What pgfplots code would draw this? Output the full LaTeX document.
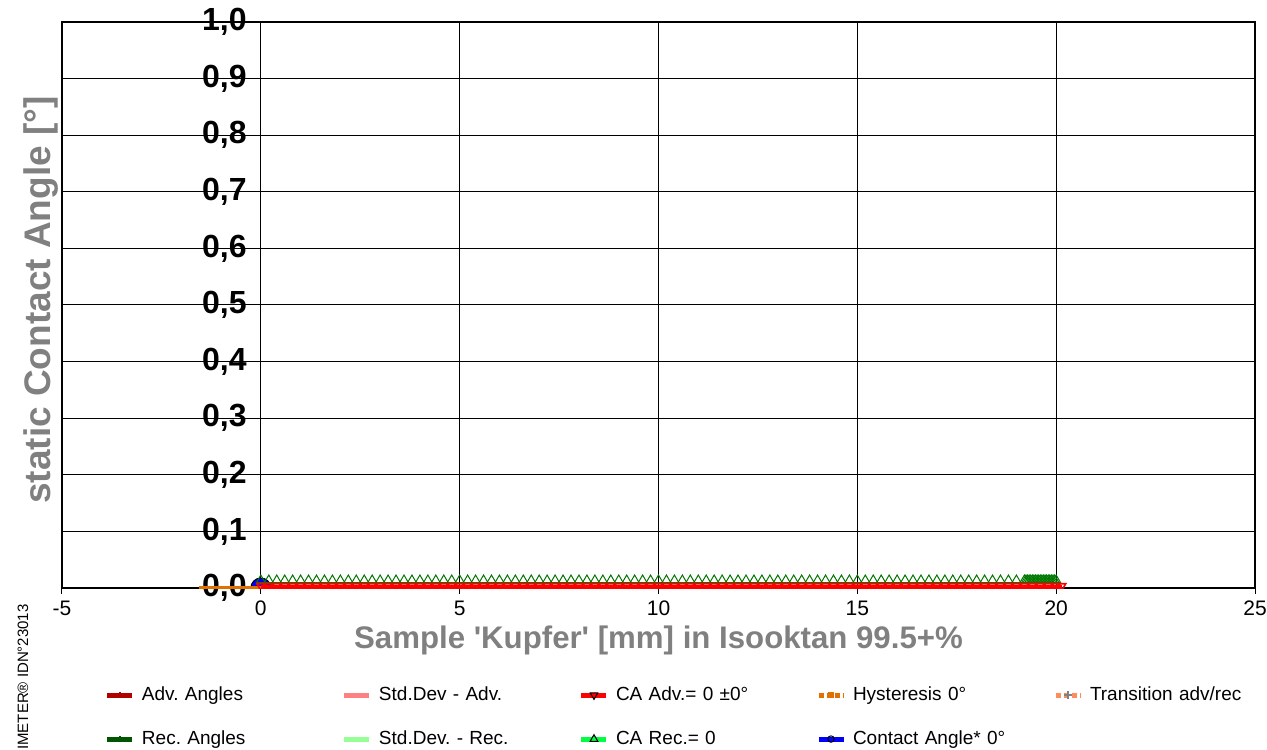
\documentclass[border=0pt]{standalone}
\usepackage{fontspec}
\setmainfont{Liberation Sans}
\usepackage{pgfplots}
\pgfplotsset{compat=1.18}
\frenchspacing

\definecolor{advdark}{RGB}{176,0,0}
\definecolor{advstd}{RGB}{255,128,128}
\definecolor{caadv}{RGB}{255,0,0}
\definecolor{hyst}{RGB}{224,112,0}
\definecolor{trans}{RGB}{255,140,90}
\definecolor{recdark}{RGB}{0,85,0}
\definecolor{recstd}{RGB}{150,255,150}
\definecolor{carec}{RGB}{0,255,64}
\definecolor{recmark}{RGB}{0,120,0}
\definecolor{cablue}{RGB}{0,0,255}
\definecolor{labelgray}{RGB}{128,128,128}

\begin{document}
\begin{tikzpicture}
\useasboundingbox (-31pt,-80.5pt) rectangle (602.5pt,294pt);
\clip (-31pt,-80.5pt) rectangle (602.5pt,294pt);
\begin{axis}[
  name=ax, at={(0,0)}, anchor=south west,
  scale only axis, width=596.5pt, height=283pt,
  xmin=-5, xmax=25, ymin=0, ymax=1,
  xtick={-5,0,5,10,15,20,25},
  ytick={0,0.1,0.2,0.3,0.4,0.5,0.6,0.7,0.8,0.9,1},
  grid=major,
  grid style={black, line width=0.5pt},
  axis line style={black, line width=0.6pt},
  tick align=outside, tick pos=left,
  major tick length=3pt,
  ytick style={draw=none},
  xtick style={black, line width=0.5pt},
  clip marker paths=true,
  /pgf/number format/assume math mode=true,
  xticklabel style={font=\fontsize{10.5}{12}\selectfont},
  yticklabel style={font=\bfseries\fontsize{16}{18}\selectfont,
    anchor=east, inner sep=0pt, xshift=95.5pt,
    /pgf/number format/fixed, /pgf/number format/fixed zerofill,
    /pgf/number format/precision=1, /pgf/number format/use comma},
  xlabel={Sample \textquotesingle Kupfer\textquotesingle\ [mm] in Isooktan 99.5+\%},
  ylabel={static Contact Angle [°]},
  x label style={at={(axis description cs:0.5,-0.106)}, anchor=base,
    font=\bfseries\fontsize{15.6}{18}\selectfont, text=labelgray},
  y label style={at={(axis description cs:-0.01006,0.509)}, anchor=base,
    font=\bfseries\fontsize{18.5}{21}\selectfont, text=labelgray},
  legend style={
    at={(axis description cs:0.03604,-0.228)}, anchor=west,
    draw=none, fill=none, inner sep=0pt, outer sep=0pt,
    font=\fontsize{9.5}{11}\selectfont,
    row sep=9.5pt,
    /tikz/every odd column/.append style={column sep=1.5pt},
    /tikz/every even column/.append style={text width=98pt, align=left,
      inner xsep=0pt, inner ysep=0pt, text height=7pt, text depth=2pt},
  },
  legend cell align=left,
  legend columns=5,
  legend image code/.code={\draw[mark repeat=2,mark phase=2,#1]
    plot coordinates {(0pt,0pt) (6.25pt,0pt) (12.5pt,0pt)};},
]

% contact angle at the start point
\addplot[forget plot, only marks, mark=*, mark size=5pt,
  mark options={fill=cablue, draw=black, line width=0.5pt}]
  coordinates {(0,0)};

% hysteresis
\addplot[forget plot, hyst, line width=2pt] coordinates {(-1.55,0) (0,0)};

% receding angles
\addplot[forget plot, only marks, recmark, mark=triangle, mark size=2.5pt,
  mark options={yshift=4pt, line width=0.5pt}]
  coordinates {
  (0,0)(0.2,0)(0.4,0)(0.6,0)(0.8,0)
  (1,0)(1.2,0)(1.4,0)(1.6,0)(1.8,0)
  (2,0)(2.2,0)(2.4,0)(2.6,0)(2.8,0)
  (3,0)(3.2,0)(3.4,0)(3.6,0)(3.8,0)
  (4,0)(4.2,0)(4.4,0)(4.6,0)(4.8,0)
  (5,0)(5.2,0)(5.4,0)(5.6,0)(5.8,0)
  (6,0)(6.2,0)(6.4,0)(6.6,0)(6.8,0)
  (7,0)(7.2,0)(7.4,0)(7.6,0)(7.8,0)
  (8,0)(8.2,0)(8.4,0)(8.6,0)(8.8,0)
  (9,0)(9.2,0)(9.4,0)(9.6,0)(9.8,0)
  (10,0)(10.2,0)(10.4,0)(10.6,0)(10.8,0)
  (11,0)(11.2,0)(11.4,0)(11.6,0)(11.8,0)
  (12,0)(12.2,0)(12.4,0)(12.6,0)(12.8,0)
  (13,0)(13.2,0)(13.4,0)(13.6,0)(13.8,0)
  (14,0)(14.2,0)(14.4,0)(14.6,0)(14.8,0)
  (15,0)(15.2,0)(15.4,0)(15.6,0)(15.8,0)
  (16,0)(16.2,0)(16.4,0)(16.6,0)(16.8,0)
  (17,0)(17.2,0)(17.4,0)(17.6,0)(17.8,0)
  (18,0)(18.2,0)(18.4,0)(18.6,0)(18.8,0)
  (19,0)(19.2,0)
  (19.24,0)(19.28,0)(19.32,0)(19.36,0)(19.4,0)
  (19.44,0)(19.48,0)(19.52,0)(19.56,0)(19.6,0)
  (19.64,0)(19.68,0)(19.72,0)(19.76,0)(19.8,0)
  (19.84,0)(19.88,0)(19.92,0)(19.96,0)(20,0)
  };

% advancing angles
\addplot[forget plot, caadv, line width=3pt, mark=triangle, mark size=2.3pt,
  mark options={yshift=1pt, rotate=180, line width=0.8pt}]
  coordinates {
  (0,0)(0.2,0)(0.4,0)(0.6,0)(0.8,0)
  (1,0)(1.2,0)(1.4,0)(1.6,0)(1.8,0)
  (2,0)(2.2,0)(2.4,0)(2.6,0)(2.8,0)
  (3,0)(3.2,0)(3.4,0)(3.6,0)(3.8,0)
  (4,0)(4.2,0)(4.4,0)(4.6,0)(4.8,0)
  (5,0)(5.2,0)(5.4,0)(5.6,0)(5.8,0)
  (6,0)(6.2,0)(6.4,0)(6.6,0)(6.8,0)
  (7,0)(7.2,0)(7.4,0)(7.6,0)(7.8,0)
  (8,0)(8.2,0)(8.4,0)(8.6,0)(8.8,0)
  (9,0)(9.2,0)(9.4,0)(9.6,0)(9.8,0)
  (10,0)(10.2,0)(10.4,0)(10.6,0)(10.8,0)
  (11,0)(11.2,0)(11.4,0)(11.6,0)(11.8,0)
  (12,0)(12.2,0)(12.4,0)(12.6,0)(12.8,0)
  (13,0)(13.2,0)(13.4,0)(13.6,0)(13.8,0)
  (14,0)(14.2,0)(14.4,0)(14.6,0)(14.8,0)
  (15,0)(15.2,0)(15.4,0)(15.6,0)(15.8,0)
  (16,0)(16.2,0)(16.4,0)(16.6,0)(16.8,0)
  (17,0)(17.2,0)(17.4,0)(17.6,0)(17.8,0)
  (18,0)(18.2,0)(18.4,0)(18.6,0)(18.8,0)
  (19,0)(19.2,0)(19.4,0)(19.6,0)(19.8,0)
  (20,0)(20.14,0)
  };

% legend, row by row
\addlegendimage{advdark, line width=2.5pt, mark=+, mark size=1.5pt,
  mark options={line width=0.8pt}}
\addlegendentry{Adv. Angles}
\addlegendimage{advstd, line width=2.5pt}
\addlegendentry{Std.Dev - Adv.}
\addlegendimage{caadv, line width=2.5pt, mark=triangle*, mark size=2.2pt,
  mark options={rotate=180, draw=black, fill=caadv, line width=0.5pt}}
\addlegendentry{CA Adv.= 0 ±0°}
\addlegendimage{hyst, line width=2.5pt, dash pattern=on 2.5pt off 1.5pt,
  mark=square*, mark size=1.2pt, mark options={solid, line width=0.4pt}}
\addlegendentry{Hysteresis 0°}
\addlegendimage{trans, line width=2.5pt, dash pattern=on 2.5pt off 1.5pt,
  mark=+, mark size=2pt, mark options={solid, gray, line width=0.6pt}}
\addlegendentry{Transition adv/rec}
\addlegendimage{recdark, line width=2.5pt, mark=+, mark size=1.5pt,
  mark options={line width=0.8pt}}
\addlegendentry{Rec. Angles}
\addlegendimage{recstd, line width=2.5pt}
\addlegendentry{Std.Dev. - Rec.}
\addlegendimage{carec, line width=2.5pt, mark=triangle*, mark size=2.2pt,
  mark options={draw=black, fill=carec, line width=0.5pt}}
\addlegendentry{CA Rec.= 0}
\addlegendimage{cablue, line width=2.5pt, mark=o, mark size=1.6pt,
  mark options={draw=black, line width=0.5pt}}
\addlegendentry{Contact Angle* 0°}
\end{axis}
\node[rotate=90, anchor=east, inner sep=0pt, font=\fontsize{7.5}{9}\selectfont]
  at ([xshift=-19.5pt, yshift=-8pt]ax.south west) {IMETER® IDN°23013};
\end{tikzpicture}
\end{document}
